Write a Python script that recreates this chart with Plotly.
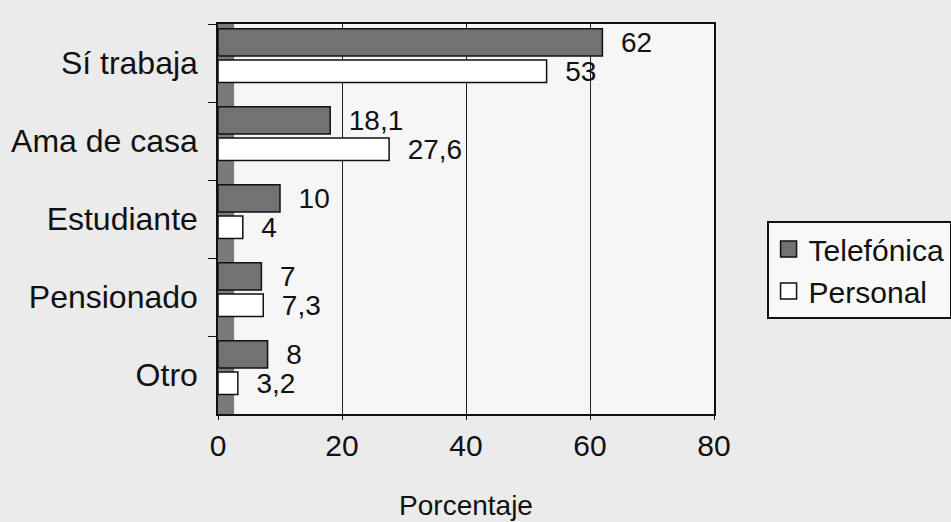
import plotly.graph_objects as go

categories = ["Sí trabaja", "Ama de casa", "Estudiante", "Pensionado", "Otro"]
telefonica = [62, 18.1, 10, 7, 8]
personal = [53, 27.6, 4, 7.3, 3.2]
tele_labels = ["62", "18,1", "10", "7", "8"]
pers_labels = ["53", "27,6", "4", "7,3", "3,2"]
x_ticks = [0, 20, 40, 60, 80]

FONT = "Liberation Sans, Arial, sans-serif"
GREY = "#727272"
PAPER = "#ebebeb"

fig = go.Figure()
fig.add_trace(go.Bar(
    y=categories, x=telefonica, orientation="h", name="Telefónica",
    marker=dict(color=GREY, line=dict(color="#111111", width=1.5)),
    offset=-0.44, width=0.35,
    text=tele_labels, texttemplate="  %{text}", textposition="outside",
    cliponaxis=False, constraintext="none",
    textfont=dict(size=28, color="#111111", family=FONT),
    showlegend=False,
))
fig.add_trace(go.Bar(
    y=categories, x=personal, orientation="h", name="Personal",
    marker=dict(color="#ffffff", line=dict(color="#111111", width=1.5)),
    offset=-0.04, width=0.29,
    text=pers_labels, texttemplate="  %{text}", textposition="outside",
    cliponaxis=False, constraintext="none",
    textfont=dict(size=28, color="#111111", family=FONT),
    showlegend=False,
))
# legend entries with larger square symbols
fig.add_trace(go.Scatter(x=[None], y=[None], mode="markers", name="Telefónica",
                         marker=dict(symbol="square", size=18, color=GREY,
                                     line=dict(color="#111111", width=1.5))))
fig.add_trace(go.Scatter(x=[None], y=[None], mode="markers", name="Personal",
                         marker=dict(symbol="square", size=18, color="#ffffff",
                                     line=dict(color="#111111", width=1.5))))

fig.update_layout(
    width=951, height=522,
    margin=dict(l=218, r=237, t=24, b=108, autoexpand=False),
    paper_bgcolor=PAPER,
    plot_bgcolor="#f6f6f6",
    barmode="overlay",
    font=dict(family=FONT, color="#111111"),
    legend=dict(
        x=1.106, y=0.495, xanchor="left", yanchor="top",
        bgcolor="#f8f8f8", bordercolor="#111111", borderwidth=2,
        font=dict(size=30, family=FONT, color="#111111"),
        tracegroupgap=0, itemwidth=30,
    ),
    shapes=[dict(type="rect", xref="x", yref="paper", x0=0, x1=2.6, y0=0, y1=1,
                 fillcolor="#7a7a7a", line=dict(width=0), layer="below")],
)
fig.update_xaxes(
    range=[0, 80], tickvals=x_ticks, ticktext=[str(v) for v in x_ticks],
    showgrid=True, gridcolor="#222222", gridwidth=1,
    showline=True, linecolor="#111111", linewidth=1.5, mirror=True,
    ticks="outside", ticklen=4, tickcolor="#111111",
    tickfont=dict(size=30, family=FONT), zeroline=False,
    title=dict(text="Porcentaje", font=dict(size=28, family=FONT), standoff=35),
)
fig.update_yaxes(
    categoryorder="array", categoryarray=categories,
    range=[4.5, -0.5],
    showline=True, linecolor="#111111", linewidth=1.5, mirror=True,
    ticks="outside", ticklen=8, tickcolor="#111111", tickson="boundaries",
    tickfont=dict(size=32, family=FONT), showgrid=False,
    ticklabelstandoff=12,
)

fig.write_html(
    "out.html",
    config={"displayModeBar": False},
    post_script="document.body.style.margin='0';document.body.style.background='%s';" % PAPER,
)
